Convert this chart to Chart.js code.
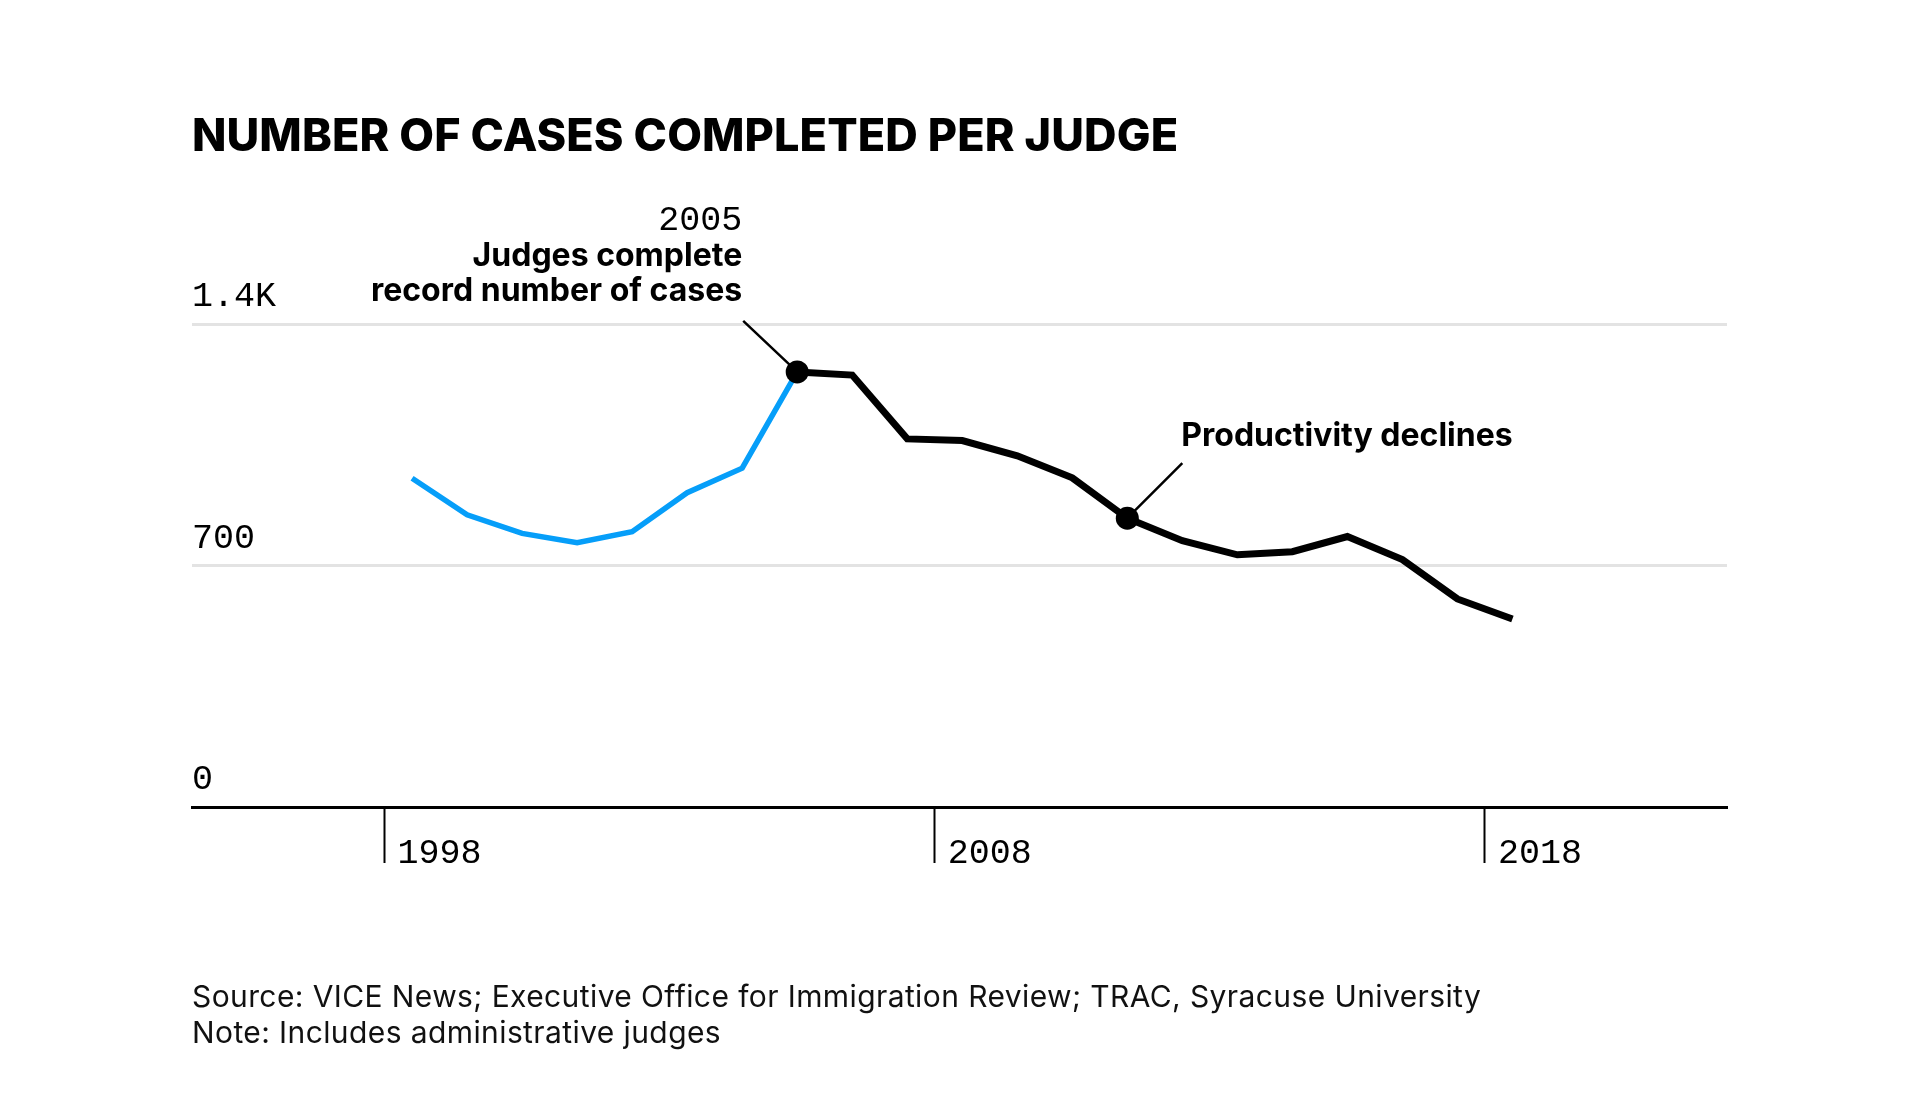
<!DOCTYPE html>
<html>
<head>
<meta charset="utf-8">
<title>Number of cases completed per judge</title>
<script src="https://cdn.jsdelivr.net/npm/chart.js@4.4.1/dist/chart.umd.min.js"></script>
<style>
  html, body { margin: 0; padding: 0; background: #fff; }
  body { width: 1920px; height: 1116px; position: relative; overflow: hidden;
         font-family: Inter, "Noto Sans", sans-serif; color: #000; }
  #title { position: absolute; left: 192px; top: 112px; font-size: 45px; line-height: 45px;
           font-weight: 800; letter-spacing: 0.1px; white-space: nowrap; }
  #notes { position: absolute; left: 192px; top: 978px; font-size: 30px; line-height: 36px;
           letter-spacing: 0.4px; color: #111; white-space: nowrap; }
  #wrap { position: absolute; left: 0; top: 0; width: 1920px; height: 1116px; }
</style>
</head>
<body>
<div id="wrap"><canvas id="chart"></canvas></div>
<div id="title">NUMBER OF CASES COMPLETED PER JUDGE</div>
<div id="notes">Source: VICE News; Executive Office for Immigration Review; TRAC, Syracuse University<br>Note: Includes administrative judges</div>
<script>
// values (fiscal years, plotted mid-year)
const years = [1998, 1999, 2000, 2001, 2002, 2003, 2004, 2005, 2006, 2007, 2008,
               2009, 2010, 2011, 2012, 2013, 2014, 2015, 2016, 2017, 2018];
const casesPerJudge = [953, 847, 793, 766, 798, 911, 982, 1261, 1252, 1067, 1062,
                       1018, 954, 837, 772, 731, 740, 784, 717, 603, 545];
const peakYear = 2005;          // blue segment runs up to here
const declineYear = 2011;       // "Productivity declines" marker
const yTicks = [0, 700, 1400];
const yTickLabels = ['0', '700', '1.4K'];
const xTicks = [1998, 2008, 2018];

const BLUE = '#069ef9';
const MONO = '"Liberation Mono", "DejaVu Sans Mono", monospace';
const SANS = 'Inter, "Noto Sans", sans-serif';

const pts = years.map((yr, i) => ({ x: yr + 0.5, y: casesPerJudge[i] }));
const risePts = pts.filter((p, i) => years[i] <= peakYear);
const fallPts = pts.filter((p, i) => years[i] >= peakYear);

function pointAt(chart, yr) {
  const i = years.indexOf(yr);
  return {
    x: chart.scales.x.getPixelForValue(yr + 0.5),
    y: chart.scales.y.getPixelForValue(casesPerJudge[i]),
  };
}

// leader lines go under the line, text on top
const annotations = {
  id: 'annotations',
  beforeDatasetsDraw(chart) {
    const ctx = chart.ctx;
    const a = pointAt(chart, peakYear);
    const b = pointAt(chart, declineYear);
    ctx.save();
    ctx.strokeStyle = '#000';
    ctx.lineWidth = 2.5;
    ctx.beginPath();
    ctx.moveTo(a.x - 54, a.y - 51);
    ctx.lineTo(a.x, a.y);
    ctx.moveTo(b.x + 55, b.y - 55);
    ctx.lineTo(b.x, b.y);
    ctx.stroke();
    ctx.restore();
  },
  afterDatasetsDraw(chart) {
    const ctx = chart.ctx;
    const a = pointAt(chart, peakYear);
    const b = pointAt(chart, declineYear);
    ctx.save();
    ctx.fillStyle = '#000';
    ctx.textBaseline = 'alphabetic';
    ctx.textAlign = 'right';
    ctx.font = '35px ' + MONO;
    ctx.fillText(String(peakYear), a.x - 55, a.y - 142);
    ctx.font = '700 32px ' + SANS;
    ctx.fillText('Judges complete', a.x - 55, a.y - 106);
    ctx.fillText('record number of cases', a.x - 55, a.y - 71);
    ctx.textAlign = 'left';
    ctx.fillText('Productivity declines', b.x + 54, b.y - 72);
    ctx.restore();
  },
  // year labels sit to the right of the long tick marks
  afterDraw(chart) {
    const ctx = chart.ctx;
    const x = chart.scales.x;
    const base = chart.chartArea.bottom + 56;
    ctx.save();
    ctx.fillStyle = '#000';
    ctx.font = '35px ' + MONO;
    ctx.textAlign = 'left';
    ctx.textBaseline = 'alphabetic';
    xTicks.forEach((v) => ctx.fillText(String(v), x.getPixelForValue(v) + 13, base));
    ctx.restore();
  },
};

const chart = new Chart(document.getElementById('chart'), {
  type: 'line',
  data: {
    datasets: [
      {
        data: fallPts,
        borderColor: '#000',
        borderWidth: 7,
        pointRadius: (c) => {
          const yr = c.raw ? c.raw.x - 0.5 : null;
          return yr === peakYear || yr === declineYear ? 11.5 : 0;
        },
        pointBackgroundColor: '#000',
        pointBorderWidth: 0,
        pointHoverRadius: 0,
        order: 1,
      },
      {
        data: risePts,
        borderColor: BLUE,
        borderWidth: 5.5,
        pointRadius: 0,
        order: 2,
      },
    ],
  },
  options: {
    responsive: true,
    maintainAspectRatio: false,
    animation: false,
    layout: { padding: { left: 192, right: 193, top: 324, bottom: 253 } },
    scales: {
      x: {
        type: 'linear',
        min: 1994.5,
        max: 2022.4,
        afterBuildTicks: (s) => { s.ticks = xTicks.map((v) => ({ value: v })); },
        grid: {
          drawOnChartArea: false,
          drawTicks: true,
          tickLength: 56,
          tickColor: '#000',
          tickWidth: 2,
        },
        border: { display: true, color: '#000', width: 3 },
        ticks: { display: false },
      },
      y: {
        min: 0,
        max: 1400,
        afterBuildTicks: (s) => { s.ticks = yTicks.map((v) => ({ value: v })); },
        grid: {
          drawTicks: false,
          lineWidth: 3,
          color: (c) => (c.tick && c.tick.value === 0 ? '#000' : '#e3e3e3'),
        },
        border: { display: false },
        ticks: {
          mirror: true,
          padding: 0,
          labelOffset: -27,
          color: '#000',
          font: { family: MONO, size: 35 },
          callback: (v) => yTickLabels[yTicks.indexOf(v)],
        },
      },
    },
    plugins: {
      legend: { display: false },
      tooltip: { enabled: false },
    },
  },
  plugins: [annotations],
});
</script>
</body>
</html>
